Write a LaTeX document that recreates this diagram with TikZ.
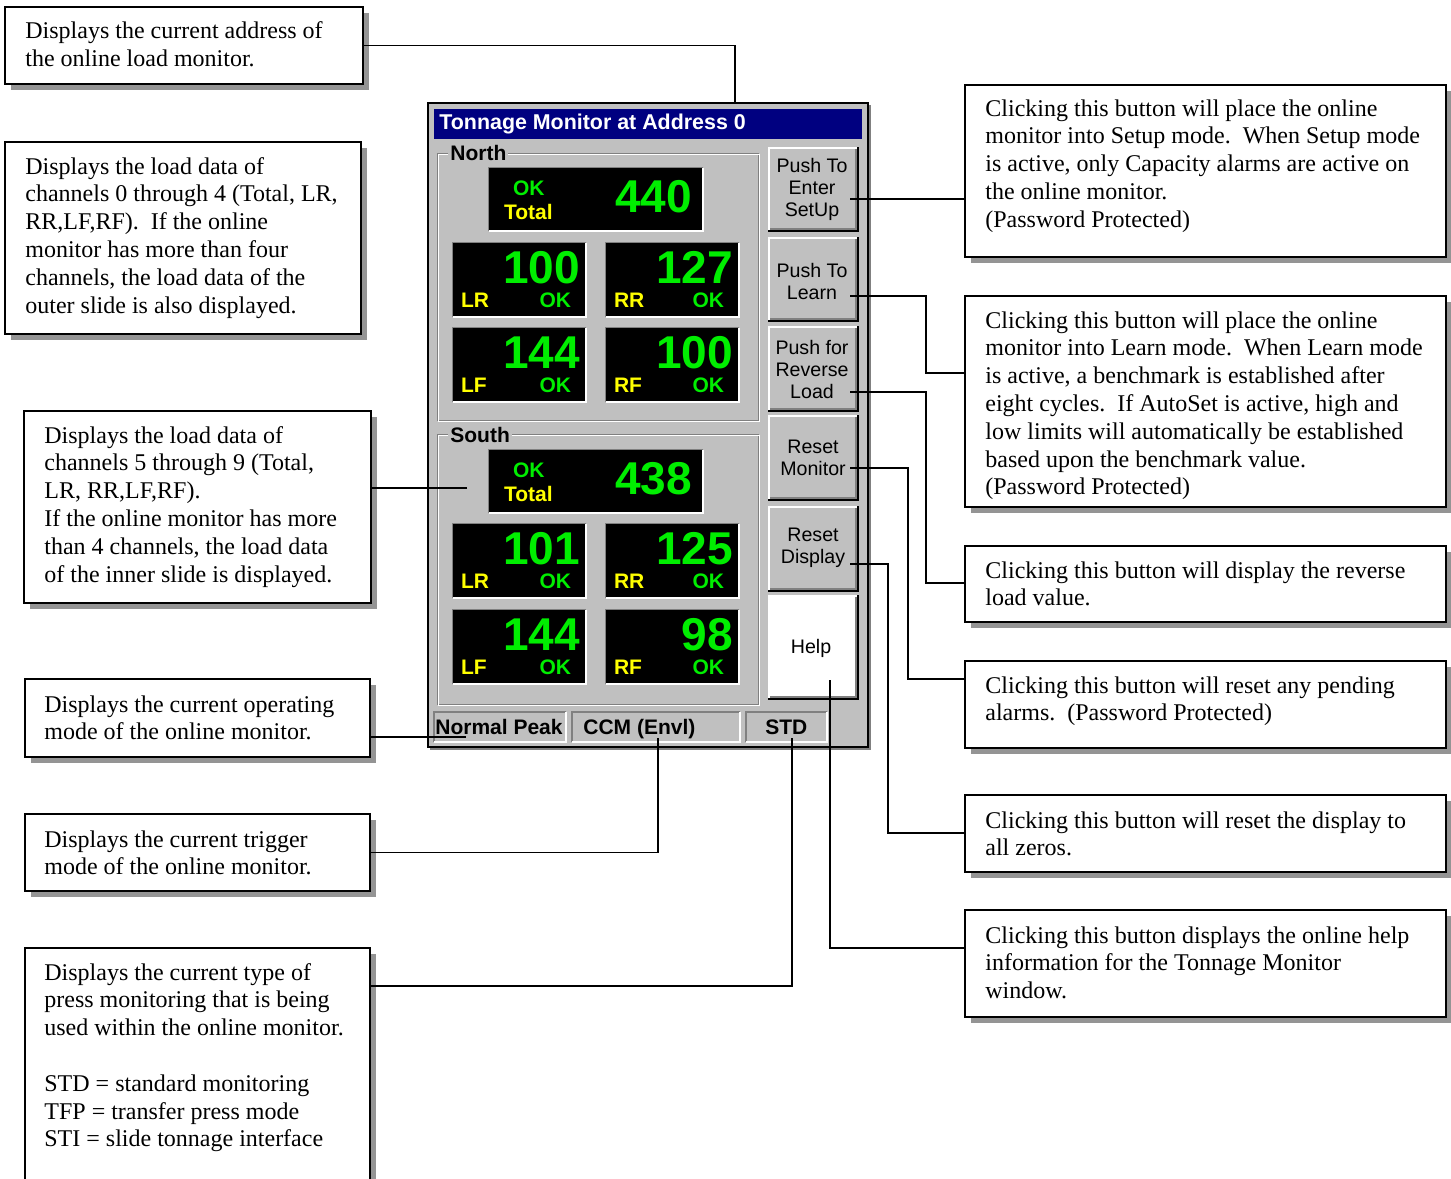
\documentclass[tikz,border=0pt]{standalone}
\usepackage{fontspec}
\setmainfont{Liberation Serif}
\newfontfamily\uifont{Liberation Sans}
\usetikzlibrary{fit,shadows}

\definecolor{winbg}{HTML}{C0C0C0}
\definecolor{winnavy}{HTML}{000080}
\definecolor{lcdgreen}{HTML}{00EE00}
\definecolor{lcdyellow}{HTML}{FFFF00}
\definecolor{bevel}{HTML}{808080}
\definecolor{shade}{HTML}{949494}

\tikzset{
  callout/.style={draw=black, line width=0.65pt, fill=white, inner sep=0pt,
    drop shadow={shadow xshift=3pt, shadow yshift=-3pt, fill=shade, opacity=1}},
  ctext/.style={anchor=base west, inner sep=0pt, font=\fontsize{12}{13.9}\selectfont},
  link/.style={draw=black, line width=0.95pt},
  lcd/.style={fill=black, draw=none, inner sep=0pt},
  bigdigit/.style={inner sep=0pt, text=lcdgreen, font=\uifont\bfseries\fontsize{23}{23}\selectfont},
  smalllbl/.style={inner sep=0pt, font=\uifont\bfseries\fontsize{10.5}{12}\selectfont},
  btntext/.style={inner sep=0pt, align=center, font=\uifont\fontsize{9.8}{11}\selectfont},
  statustext/.style={anchor=base west, inner sep=0pt, font=\uifont\bfseries\fontsize{10.5}{12}\selectfont},
  grplbl/.style={anchor=west, fill=winbg, inner xsep=1pt, inner ysep=0pt, font=\uifont\bfseries\fontsize{10.5}{12}\selectfont},
}

% channel cell: name, left x, top y, value, channel label
\newcommand\loadcell[5]{%
  \node[lcd, fit={(#2,#3) ({#2+133},{#3+74})}] (#1) {};
  \draw[bevel, line width=0.5pt] (#1.south west) -- (#1.north west) -- (#1.north east);
  \draw[white, line width=1pt] (#1.south west) -- (#1.south east) -- (#1.north east);
  \node[bigdigit, anchor=east] (#1v) at ([xshift=-3pt,yshift=-12.5pt]#1.north east) {#4};
  \node[smalllbl, anchor=base west, text=lcdyellow] (#1l) at ([xshift=4pt,yshift=-32.5pt]#1.north west) {#5};
  \node[smalllbl, anchor=base east, text=lcdgreen] (#1k) at ([xshift=-7.5pt,yshift=-32.5pt]#1.north east) {OK};
}
% total cell: name, left x, top y, value
\newcommand\totalcell[4]{%
  \node[lcd, fit={(#2,#3) ({#2+214},{#3+63})}] (#1) {};
  \draw[bevel, line width=0.5pt] (#1.south west) -- (#1.north west) -- (#1.north east);
  \draw[white, line width=1pt] (#1.south west) -- (#1.south east) -- (#1.north east);
  \node[smalllbl, anchor=base west, text=lcdgreen] (#1k) at ([xshift=12pt,yshift=-14pt]#1.north west) {OK};
  \node[smalllbl, anchor=base west, text=lcdyellow] (#1l) at ([xshift=7.5pt,yshift=-26pt]#1.north west) {Total};
  \node[bigdigit, anchor=east] (#1v) at ([xshift=-5.5pt,yshift=-14.5pt]#1.north east) {#4};
}
% raised push button: name, x1, y1, x2, y2, face colour
\newcommand\uibutton[6]{%
  \node[fit={(#2,#3) (#4,#5)}, inner sep=0pt, fill=#6] (#1) {};
  \draw[white, line width=1pt] ({#2+1},{#5-2}) -- ({#2+1},{#3+1}) -- ({#4-2},{#3+1});
  \draw[bevel, line width=1pt] ({#2+2},{#5-3}) -- ({#4-3},{#5-3}) -- ({#4-3},{#3+2});
  \draw[black, line width=1pt] (#2,{#5-1}) -- ({#4-1},{#5-1}) -- ({#4-1},#3);
}
% sunken status panel: name, x1, y1, x2, y2
\newcommand\statuspanel[5]{%
  \node[fit={(#2,#3) (#4,#5)}, inner sep=0pt, fill=winbg] (#1) {};
  \draw[bevel, line width=1pt] (#2,#5) -- (#2,#3) -- (#4,#3);
  \draw[white, line width=1pt] (#2,#5) -- (#4,#5) -- (#4,#3);
}

\begin{document}
\begin{tikzpicture}[x=0.5pt,y=-0.5pt]
\useasboundingbox (0,0) rectangle (1451,1178);
\clip (0,0) rectangle (1451,1178);

% ---------------- monitor window ----------------
\node[fit={(428,103) (868,747)}, inner sep=0pt, fill=winbg, draw=black, line width=0.7pt] (win) {};
\draw[bevel, line width=1pt] (870,105) -- (870,749) -- (430,749);
\node[fit={(434,109) (862,139)}, inner sep=0pt, fill=winnavy] (titlebar) {};
\node[anchor=west, inner sep=0pt, text=white, font=\uifont\bfseries\fontsize{10.7}{12}\selectfont]
  (title) at (439,124) {Tonnage Monitor at Address 0};

% group frames
\node[fit={(437,153) (758,420)}, inner sep=0pt, draw=bevel, line width=0.5pt] (northgrp) {};
\draw[white, line width=0.5pt] (438,154) rectangle (759,421);
\node[grplbl] (northlbl) at (448,153) {North};
\node[fit={(437,434) (758,704)}, inner sep=0pt, draw=bevel, line width=0.5pt] (southgrp) {};
\draw[white, line width=0.5pt] (438,435) rectangle (759,705);
\node[grplbl] (southlbl) at (448,435) {South};

% north channels
\totalcell{ntot}{489}{168}{440}
\loadcell{nlr}{453}{243}{100}{LR}
\loadcell{nrr}{606}{243}{127}{RR}
\loadcell{nlf}{453}{328}{144}{LF}
\loadcell{nrf}{606}{328}{100}{RF}
% south channels
\totalcell{stot}{489}{450}{438}
\loadcell{slr}{453}{524}{101}{LR}
\loadcell{srr}{606}{524}{125}{RR}
\loadcell{slf}{453}{610}{144}{LF}
\loadcell{srf}{606}{610}{98}{RF}

% buttons
\uibutton{bsetup}{768}{147}{859}{232}{winbg}
\uibutton{blearn}{768}{237}{859}{322}{winbg}
\uibutton{brev}{768}{326}{859}{412}{winbg}
\uibutton{bresm}{768}{415}{859}{501}{winbg}
\uibutton{bresd}{768}{506}{859}{592}{winbg}
\uibutton{bhelp}{768}{595}{859}{700}{white}
\node[btntext] (tsetup) at (812,189) {Push To\\Enter\\SetUp};
\node[btntext] (tlearn) at (812,281) {Push To\\Learn};
\node[btntext] (trev) at (812,369) {Push for\\Reverse\\Load};
\node[btntext] (tresm) at (813,458) {Reset\\Monitor};
\node[btntext] (tresd) at (813,548) {Reset\\Display};
\node[btntext] (thelp) at (811,648) {Help};

% status bar
\statuspanel{smode}{434}{712}{566}{742}
\statuspanel{strig}{572}{712}{740}{742}
\statuspanel{stype}{746}{712}{827}{742}
\node[statustext] (tmode) at (435,734) {Normal Peak};
\node[statustext] (ttrig) at (583,734) {CCM (Envl)};
\node[statustext] (ttype) at (765,734) {STD};

% ---------------- callout boxes ----------------
\node[callout, fit={(5,7) (363,84)}] (boxA) {};
\node[callout, fit={(5,142) (361,334)}] (boxB) {};
\node[callout, fit={(24,411) (371,603)}] (boxC) {};
\node[callout, fit={(25,679) (370,757)}] (boxD) {};
\node[callout, fit={(25,814) (370,891)}] (boxE) {};
\node[callout, fit={(25,948) (370,1200)}] (boxF) {};
\node[callout, fit={(965,85) (1446,257)}] (boxG) {};
\node[callout, fit={(965,296) (1446,507)}] (boxH) {};
\node[callout, fit={(965,546) (1446,622)}] (boxI) {};
\node[callout, fit={(965,661) (1446,748)}] (boxJ) {};
\node[callout, fit={(965,795) (1446,872)}] (boxK) {};
\node[callout, fit={(965,910) (1446,1017)}] (boxL) {};

\node[ctext] (txA) at (25,39) {\parbox[t]{175pt}{Displays the current address of\\the online load monitor.}};
\node[ctext] (txB) at (25,174) {\parbox[t]{175pt}{Displays the load data of\\channels 0 through 4 (Total, LR,\\RR,LF,RF).\ \ If the online\\monitor has more than four\\channels, the load data of the\\outer slide is also displayed.}};
\node[ctext] (txC) at (44,443) {\parbox[t]{170pt}{Displays the load data of\\channels 5 through 9 (Total,\\LR, RR,LF,RF).\\If the online monitor has more\\than 4 channels, the load data\\of the inner slide is displayed.}};
\node[ctext] (txD) at (44,712) {\parbox[t]{170pt}{Displays the current operating\\mode of the online monitor.}};
\node[ctext] (txE) at (44,847) {\parbox[t]{170pt}{Displays the current trigger\\mode of the online monitor.}};
\node[ctext] (txF) at (44,980) {\parbox[t]{170pt}{Displays the current type of\\press monitoring that is being\\used within the online monitor.\\[13.9pt]STD = standard monitoring\\TFP = transfer press mode\\STI = slide tonnage interface}};
\node[ctext] (txG) at (985,116) {\parbox[t]{235pt}{Clicking this button will place the online\\monitor into Setup mode.\ \ When Setup mode\\is active, only Capacity alarms are active on\\the online monitor.\\(Password Protected)}};
\node[ctext] (txH) at (985,328) {\parbox[t]{235pt}{Clicking this button will place the online\\monitor into Learn mode.\ \ When Learn mode\\is active, a benchmark is established after\\eight cycles.\ \ If AutoSet is active, high and\\low limits will automatically be established\\based upon the benchmark value.\\(Password Protected)}};
\node[ctext] (txI) at (985,578) {\parbox[t]{235pt}{Clicking this button will display the reverse\\load value.}};
\node[ctext] (txJ) at (985,693) {\parbox[t]{235pt}{Clicking this button will reset any pending\\alarms.\ \ (Password Protected)}};
\node[ctext] (txK) at (985,828) {\parbox[t]{235pt}{Clicking this button will reset the display to\\all zeros.}};
\node[ctext] (txL) at (985,943) {\parbox[t]{235pt}{Clicking this button displays the online help\\information for the Tonnage Monitor\\window.}};

% ---------------- connectors ----------------
\coordinate (pAddr) at (735,103);
\coordinate (pSouth) at (467,488);
\coordinate (pMode) at (466,737);
\coordinate (pTrig) at (658,738);
\coordinate (pType) at (792,738);
\coordinate (fEnd) at (370,986);
\coordinate (pSetup) at (850,199);
\coordinate (pLearn) at (850,296);
\coordinate (hJog) at (926,373);
\coordinate (pRev) at (850,392);
\coordinate (iJog) at (926,583);
\coordinate (pResM) at (850,468);
\coordinate (jJog) at (908,679);
\coordinate (pResD) at (850,564);
\coordinate (kJog) at (888,833);
\coordinate (pHelp) at (830,680);
\coordinate (lJog) at (830,948);

\draw[link] (pAddr) |- (boxA.east);
\draw[link] (pSouth) -- (pSouth -| boxC.east);
\draw[link] (pMode) -- (pMode -| boxD.east);
\draw[link] (pTrig) |- (boxE.east);
\draw[link] (pType) |- (fEnd);
\draw[link] (pSetup) -- (pSetup -| boxG.west);
\draw[link] (pLearn) -| (hJog) -- (hJog -| boxH.west);
\draw[link] (pRev) -| (iJog) -- (iJog -| boxI.west);
\draw[link] (pResM) -| (jJog) -- (jJog -| boxJ.west);
\draw[link] (pResD) -| (kJog) -- (kJog -| boxK.west);
\draw[link] (pHelp) -- (lJog) -- (lJog -| boxL.west);
\end{tikzpicture}
\end{document}
